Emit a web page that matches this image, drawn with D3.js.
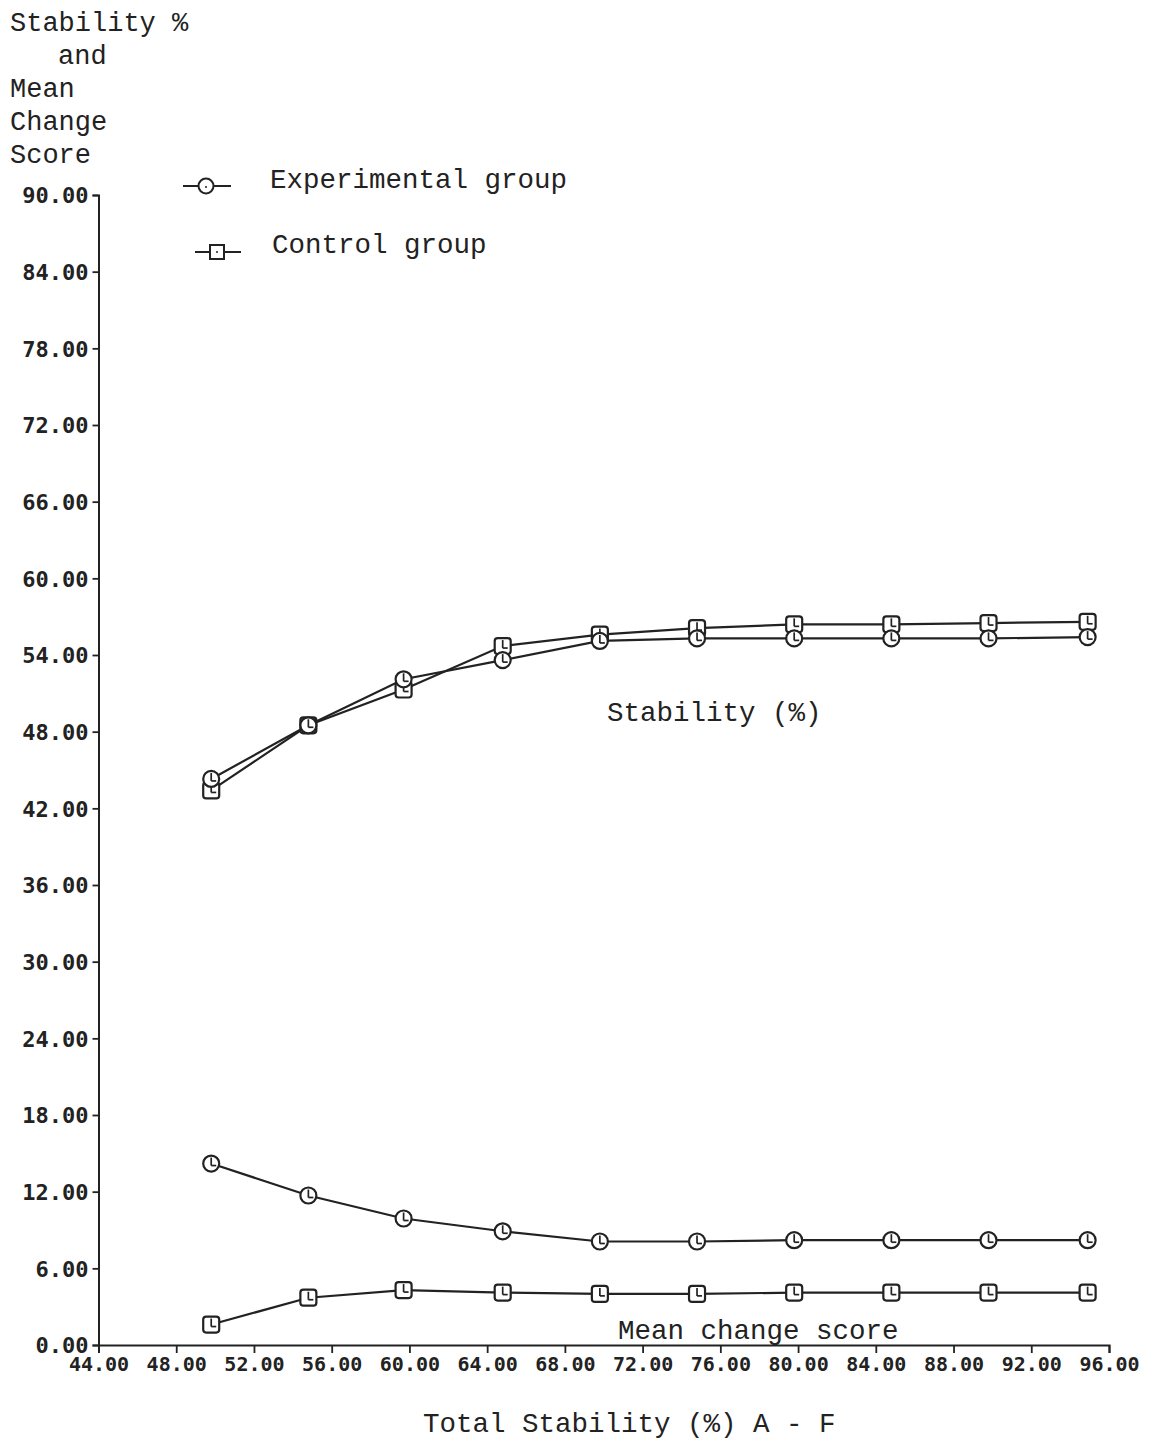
<!DOCTYPE html>
<html><head><meta charset="utf-8">
<script src="https://cdn.jsdelivr.net/npm/d3@7"></script>
<style>
html,body{margin:0;padding:0;background:#fff;}
svg{display:block;}
.tick text{font-family:"DejaVu Sans Mono",monospace;font-weight:bold;fill:#222;}
.lbl{font-family:"Liberation Mono","Courier New",monospace;fill:#222;}
</style></head>
<body>
<script>
const xValues = [49.8, 54.8, 59.7, 64.8, 69.8, 74.8, 79.8, 84.8, 89.8, 94.9];
const stabExperimental = [44.3, 48.5, 52.1, 53.6, 55.1, 55.3, 55.3, 55.3, 55.3, 55.4];
const stabControl      = [43.4, 48.5, 51.3, 54.7, 55.6, 56.1, 56.4, 56.4, 56.5, 56.6];
const changeExperimental = [14.2, 11.7, 9.9, 8.9, 8.1, 8.1, 8.2, 8.2, 8.2, 8.2];
const changeControl      = [1.6, 3.7, 4.3, 4.1, 4.0, 4.0, 4.1, 4.1, 4.1, 4.1];
const xTicks = [44, 48, 52, 56, 60, 64, 68, 72, 76, 80, 84, 88, 92, 96];
const yTicks = [0, 6, 12, 18, 24, 30, 36, 42, 48, 54, 60, 66, 72, 78, 84, 90];

const W = 1163, H = 1442;
const svg = d3.select("body").append("svg").attr("width", W).attr("height", H);

const x = d3.scaleLinear().domain([44, 96]).range([98.5, 1109]);
const y = d3.scaleLinear().domain([0, 90]).range([1345, 195]);

// axes
const gy = svg.append("g").attr("transform", "translate(98.5,0)")
  .call(d3.axisLeft(y).tickValues(yTicks).tickFormat(d3.format(".2f")).tickSize(6).tickPadding(4));
gy.selectAll("text").attr("font-size", 22).attr("dy", "0.36em");
const gx = svg.append("g").attr("transform", "translate(0,1345)")
  .call(d3.axisBottom(x).tickValues(xTicks).tickFormat(d3.format(".2f")).tickSize(8).tickPadding(3));
gx.selectAll("text").attr("font-size", 20).attr("dy", "0.75em");
svg.selectAll(".domain").attr("stroke", "#222").attr("stroke-width", 2);
svg.selectAll(".tick line").attr("stroke", "#222").attr("stroke-width", 1.8);

// lines
const line = d3.line().x(d => x(d[0])).y(d => y(d[1]));
function series(vals, marker) {
  const pts = xValues.map((xv, i) => [xv, vals[i]]);
  svg.append("path").datum(pts).attr("d", line)
    .attr("fill", "none").attr("stroke", "#222").attr("stroke-width", 2.2);
  pts.forEach(p => drawMarker(x(p[0]), y(p[1]), marker));
}
function drawMarker(cx, cy, type) {
  const g = svg.append("g").attr("transform", `translate(${cx},${cy})`);
  if (type === "circle") {
    g.append("circle").attr("r", 8).attr("fill", "#fff").attr("stroke", "#222").attr("stroke-width", 2.2);
  } else {
    g.append("rect").attr("x", -8).attr("y", -8).attr("width", 16).attr("height", 16).attr("rx", 3)
      .attr("fill", "#fff").attr("stroke", "#222").attr("stroke-width", 2.2);
  }
  g.append("line").attr("x1", 0).attr("x2", 0).attr("y1", -6).attr("y2", 2).attr("stroke", "#222").attr("stroke-width", 1.7);
  g.append("line").attr("x1", 0).attr("x2", 5).attr("y1", 2).attr("y2", 2).attr("stroke", "#222").attr("stroke-width", 1.7);
}
series(stabControl, "square");
series(stabExperimental, "circle");
series(changeControl, "square");
series(changeExperimental, "circle");

// y axis title
const yTitle = [["Stability %", 10, 31], ["and", 58, 64], ["Mean", 10, 97], ["Change", 10, 130], ["Score", 10, 163]];
yTitle.forEach(t => svg.append("text").attr("class", "lbl").attr("x", t[1]).attr("y", t[2])
  .attr("font-size", 27).text(t[0]));

// legend
svg.append("line").attr("x1", 183).attr("x2", 231).attr("y1", 186).attr("y2", 186).attr("stroke", "#222").attr("stroke-width", 2);
svg.append("circle").attr("cx", 206).attr("cy", 186).attr("r", 7.5).attr("fill", "#fff").attr("stroke", "#222").attr("stroke-width", 2);
svg.append("circle").attr("cx", 206).attr("cy", 187).attr("r", 1).attr("fill", "#222");
svg.append("text").attr("class", "lbl").attr("x", 270).attr("y", 188).attr("font-size", 27.5).text("Experimental group");
svg.append("line").attr("x1", 195).attr("x2", 241).attr("y1", 252).attr("y2", 252).attr("stroke", "#222").attr("stroke-width", 2);
svg.append("rect").attr("x", 210).attr("y", 245).attr("width", 14).attr("height", 14).attr("fill", "#fff").attr("stroke", "#222").attr("stroke-width", 2);
svg.append("circle").attr("cx", 217).attr("cy", 252).attr("r", 1).attr("fill", "#222");
svg.append("text").attr("class", "lbl").attr("x", 272).attr("y", 253).attr("font-size", 27.5).text("Control group");

// annotations
svg.append("text").attr("class", "lbl").attr("x", 607).attr("y", 721).attr("font-size", 27.5).text("Stability (%)");
svg.append("text").attr("class", "lbl").attr("x", 618).attr("y", 1339).attr("font-size", 27.5).text("Mean change score");
svg.append("text").attr("class", "lbl").attr("x", 423).attr("y", 1432).attr("font-size", 27.5).text("Total Stability (%) A - F");
</script>
</body></html>
